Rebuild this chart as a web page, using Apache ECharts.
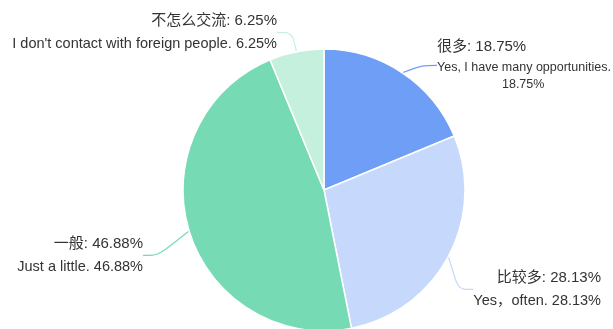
<!DOCTYPE html>
<html>
<head>
<meta charset="utf-8">
<script src="https://cdn.jsdelivr.net/npm/echarts@6/dist/echarts.min.js"></script>
<style>
  html, body { margin: 0; padding: 0; background: #fff; }
  #chart { width: 613px; height: 329px; }
</style>
</head>
<body>
<div id="chart"></div>
<script>
const categories = ['很多', '比较多', '一般', '不怎么交流'];
const englishLabels = ['Yes, I have many opportunities.', 'Yes，often.', 'Just a little.', "I don't contact with foreign people."];
const percentValues = [18.75, 28.13, 46.88, 6.25];
const sliceColors = ['#6f9ef6', '#c6d8fb', '#76dbb4', '#c6f0de'];

// label anchor for each slice: [x, y, align]
const labelSpots = [
  [437, 35, 'left'],
  [601, 266, 'right'],
  [143, 232, 'right'],
  [277, 9, 'right']
];

const chart = echarts.init(document.getElementById('chart'));
const font = 'Liberation Sans, Noto Sans CJK SC, sans-serif';

chart.setOption({
  animation: false,
  series: [{
    type: 'pie',
    center: [324, 190],
    radius: 141,
    startAngle: 90,
    clockwise: true,
    itemStyle: { borderColor: '#fff', borderWidth: 1.5 },
    label: {
      show: true,
      overflow: 'none',
      edgeDistance: 0,
      formatter: p => {
        const v = p.value.toFixed(2) + '%';
        if (p.dataIndex === 0) {
          return `{a|${p.name}: ${v}}\n{s|${englishLabels[0]}}\n{c|${v}}`;
        }
        return `{a|${p.name}: ${v}}\n{b|${englishLabels[p.dataIndex]} ${v}}`;
      },
      rich: {
        a: { fontSize: 15, color: '#333', lineHeight: 24, fontFamily: font },
        b: { fontSize: 14.5, color: '#333', lineHeight: 22, fontFamily: font },
        s: { fontSize: 12.5, color: '#333', lineHeight: 18, fontFamily: font },
        c: { fontSize: 12.5, color: '#333', lineHeight: 16, width: 170, align: 'center', fontFamily: font }
      }
    },
    labelLine: { show: true, smooth: 0.3, length: 15, length2: 15, lineStyle: { width: 1.2 } },
    labelLayout: p => {
      const s = labelSpots[p.dataIndex];
      return { x: s[0], y: s[1], align: s[2], verticalAlign: 'top', moveOverlap: false };
    },
    data: categories.map((name, i) => ({
      name,
      value: percentValues[i],
      itemStyle: { color: sliceColors[i] },
      labelLine: { lineStyle: { color: sliceColors[i] } }
    }))
  }]
});
</script>
</body>
</html>
